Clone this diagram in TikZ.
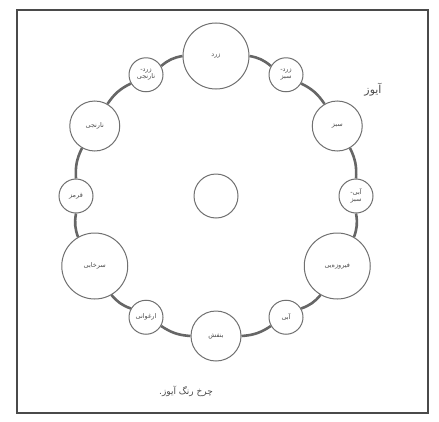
\documentclass[tikz,border=0pt]{standalone}
\usepackage{fontspec}
\newfontfamily\arabicfont[Script=Arabic]{DejaVu Sans}
\TeXXeTstate=1
\definecolor{WHLring}{HTML}{666666}
\definecolor{WHLedge}{HTML}{707070}
\definecolor{WHLtext}{HTML}{4A4A4A}
\definecolor{WHLframe}{HTML}{4A4A4A}
\newcommand{\fa}[1]{{\arabicfont\beginR #1\endR}}
\usetikzlibrary{positioning}

\begin{document}
\begin{tikzpicture}[x=1bp, y=1bp,
   hue/.style={circle, draw=WHLedge, line width=1bp, fill=white, inner sep=0pt,
      align=center, text=WHLtext, font=\fontsize{6.5}{7}\selectfont},
   big/.style={hue, minimum size=66bp},
   mid/.style={hue, minimum size=50bp},
   small/.style={hue, minimum size=34bp},
   ring/.style={WHLring, line width=2.6bp}]
   \useasboundingbox (0,0) rectangle (439,421);
   % Frame
   \draw[WHLframe, line width=1.5bp] (17,8) rectangle (428,411);
   % Hues round the wheel
   \begin{scope}[shift={(216,225)}]
      \node[big]   (yellow)    at (90:140)   {\fa{زرد}};
      \node[small] (yelgreen)  at (60:140)   {\fa{زرد-}\\\fa{سبز}};
      \node[mid]   (green)     at (30:140)   {\fa{سبز}};
      \node[small] (bluegreen) at (0:140)    {\fa{آبی-}\\\fa{سبز}};
      \node[big]   (turquoise) at (-30:140)  {\fa{فیروزه‌یی}};
      \node[small] (blue)      at (-60:140)  {\fa{آبی}};
      \node[mid]   (violet)    at (-90:140)  {\fa{بنفش}};
      \node[small] (purple)    at (-120:140) {\fa{ارغوانی}};
      \node[big]   (magenta)   at (-150:140) {\fa{سرخابی}};
      \node[small] (red)       at (180:140)  {\fa{قرمز}};
      \node[mid]   (orange)    at (150:140)  {\fa{نارنجی}};
      \node[small] (yelorange) at (120:140)  {\fa{زرد-}\\\fa{نارنجی}};
      % Centre
      \node[hue, minimum size=44bp] (centre) at (0,0) {};
   \end{scope}
   % Ring
   \foreach \a/\b in {yellow/yelgreen, yelgreen/green, green/bluegreen,
      bluegreen/turquoise, turquoise/blue, blue/violet, violet/purple,
      purple/magenta, magenta/red, red/orange, orange/yelorange, yelorange/yellow}
      \draw[ring] (\a) to[bend left=15] (\b);
   % Titles
   \node[text=WHLtext, font=\fontsize{11}{13}\selectfont] (title) at (373,331) {\fa{آیوز}};
   \node[text=WHLtext, font=\fontsize{9}{11}\selectfont] (caption) at (186,30) {\fa{چرخ رنگ آیوز.}};
\end{tikzpicture}
\end{document}
